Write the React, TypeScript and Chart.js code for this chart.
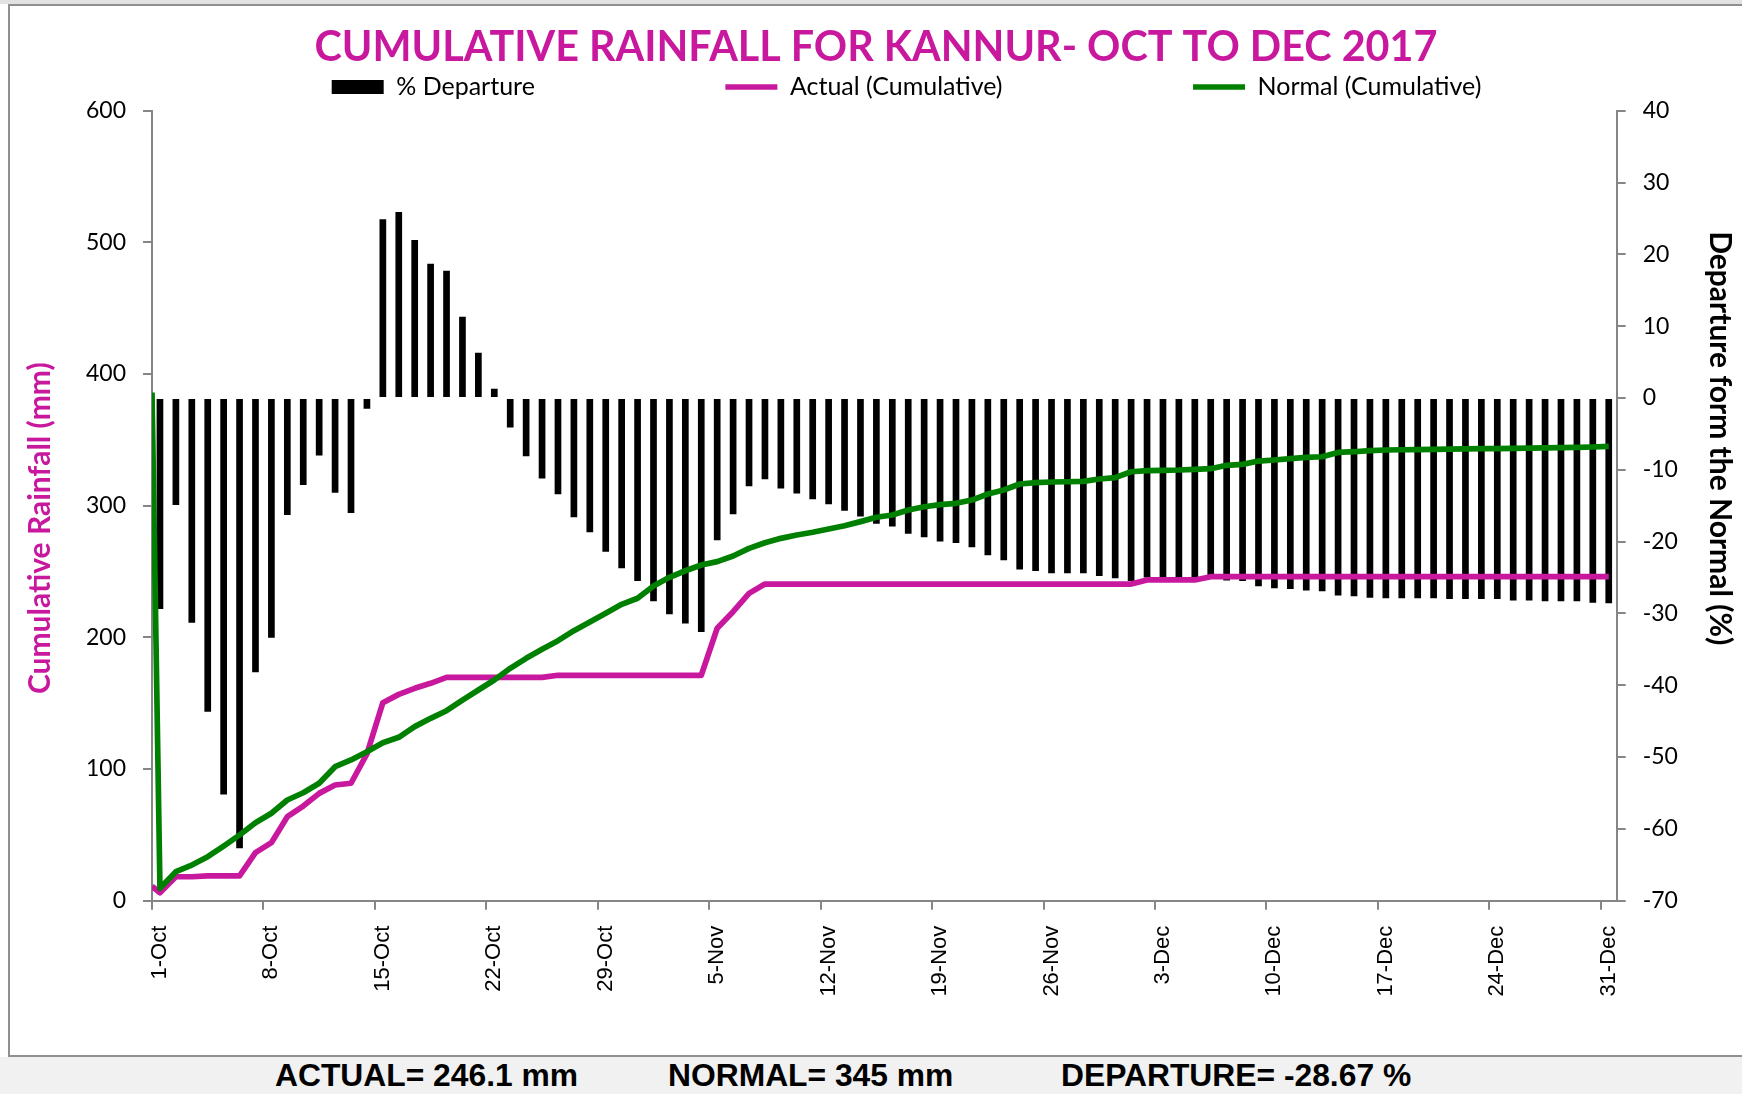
import React, { useEffect, useRef } from 'react';
import { Chart, registerables } from 'chart.js';

Chart.register(...registerables);

document.body.style.margin = '0';

// ---------- data ----------
const MONTHS = ['Oct', 'Nov', 'Dec'];
const MONTH_DAYS = [31, 30, 31];
const DAY_LABELS: string[] = [];
MONTHS.forEach((m, k) => {
  for (let d = 1; d <= MONTH_DAYS[k]; d++) DAY_LABELS.push(`${d}-${m}`);
});

// % departure (bars, right axis), one per day
const DEPARTURE_PCT = [
  -29.4, -14.9, -31.3, -43.7, -55.2, -62.7, -38.2, -33.4, -16.3, -12.1,
  -8.0, -13.2, -16.0, -1.5, 24.9, 25.9, 22.0, 18.7, 17.7, 11.3,
  6.3, 1.3, -4.1, -8.1, -11.2, -13.4, -16.6, -18.7, -21.4, -23.7,
  -25.5, -28.3, -30.1, -31.4, -32.6, -19.8, -16.2, -12.3, -11.3, -12.6,
  -13.3, -14.1, -14.8, -15.7, -16.5, -17.5, -17.9, -18.9, -19.4, -20.0,
  -20.2, -20.8, -21.9, -22.6, -23.9, -24.1, -24.4, -24.4, -24.4, -24.8,
  -25.1, -25.5, -25.0, -25.0, -25.0, -25.0, -25.1, -25.4, -25.5, -26.2,
  -26.5, -26.6, -26.8, -26.9, -27.5, -27.6, -27.8, -27.9, -27.9, -27.9,
  -27.9, -28.0, -28.0, -28.0, -28.0, -28.2, -28.2, -28.3, -28.3, -28.3,
  -28.5, -28.6,
];

// cumulative series: first value is the starting point at the left edge, then one per day
const ACTUAL_CUM = [
  11,
  6.1, 18.2, 18.2, 18.8, 18.8, 18.8, 36.5, 44.1, 63.8, 71.9,
  81.5, 87.9, 89.2, 111.5, 150.4, 156.7, 161.3, 165.1, 169.6, 169.6,
  169.6, 169.6, 169.6, 169.6, 169.6, 171.2, 171.2, 171.2, 171.2, 171.2,
  171.2, 171.2, 171.2, 171.2, 171.2, 206.9, 219.5, 233.4, 240.5, 240.5,
  240.5, 240.5, 240.5, 240.5, 240.5, 240.5, 240.5, 240.5, 240.5, 240.5,
  240.5, 240.5, 240.5, 240.5, 240.5, 240.5, 240.5, 240.5, 240.5, 240.5,
  240.5, 240.5, 243.6, 243.6, 243.6, 243.6, 246.1, 246.1, 246.1, 246.1,
  246.1, 246.1, 246.1, 246.1, 246.1, 246.1, 246.1, 246.1, 246.1, 246.1,
  246.1, 246.1, 246.1, 246.1, 246.1, 246.1, 246.1, 246.1, 246.1, 246.1,
  246.1, 246.1,
];

const NORMAL_CUM = [
  386,
  9.4, 22, 27.1, 33.4, 41.5, 49.9, 59.2, 66.4, 76.5, 82,
  89.2, 101.8, 106.9, 113.2, 120, 124.1, 132.2, 138.5, 144.3, 152.4,
  160, 167.6, 176.5, 184.1, 191, 197.5, 205.1, 211.7, 218.3, 225.1,
  229.7, 239, 245.6, 250.6, 255, 257.5, 261.8, 267.6, 271.9, 275.2,
  277.7, 279.8, 282.3, 284.8, 287.9, 291.2, 292.9, 296.7, 299.2, 300.8,
  301.8, 304.3, 308.9, 311.9, 316.5, 317.5, 318, 318.2, 318.5, 320.3,
  321.3, 325.8, 326.6, 326.9, 327.1, 327.6, 328.1, 330.7, 331.4, 333.9,
  334.7, 335.7, 336.7, 337.2, 340.5, 341, 341.8, 342.3, 342.5, 342.6,
  342.8, 343, 343.1, 343.3, 343.4, 343.6, 343.8, 343.9, 344.1, 344.3,
  344.6, 345,
];

const SERIES_NAMES = ['% Departure', 'Actual (Cumulative)', 'Normal (Cumulative)'];
const TITLE = 'CUMULATIVE RAINFALL FOR KANNUR- OCT TO DEC 2017';
const LEFT_AXIS_TITLE = 'Cumulative Rainfall (mm)';
const RIGHT_AXIS_TITLE = 'Departure form the Normal (%)';
const SUMMARY = ['ACTUAL= 246.1 mm', 'NORMAL= 345 mm', 'DEPARTURE= -28.67 %'];
const LEFT_RANGE = [0, 600, 100];
const RIGHT_RANGE = [-70, 40, 10];
const LABEL_EVERY = 7;

// ---------- style ----------
const MAGENTA = '#C8189E';
const GREEN = '#008000';
const AXIS = '#868686';
const CANVAS_W = 1732;
const CANVAS_H = 1048;
const LEGEND_H = 45.2;
const LEGEND_DX = 30.5;
const LEGEND_DY = -181.5;
const SUMMARY_X = [275, 668, 1061];
const LINE_W = 5.7;

const legendPlacement = {
  id: 'legendPlacement',
  beforeInit(chart: any) {
    const lg = chart.legend;
    if (!lg) return;
    const fit = lg.fit;
    lg.fit = function () {
      fit.call(this);
      this.height = LEGEND_H;
    };
    lg.draw = function () {
      if (!this.options.display) return;
      const c = this.ctx;
      c.save();
      c.translate(LEGEND_DX, LEGEND_DY);
      this._draw();
      c.restore();
    };
  },
};

export default function App() {
  const ref = useRef<HTMLCanvasElement>(null);

  useEffect(() => {
    const toPoints = (vals: number[]) =>
      vals.map((v, i) => ({ x: i === 0 ? -0.5 : i - 1, y: v }));

    const chart = new Chart(ref.current as HTMLCanvasElement, {
      type: 'bar',
      data: {
        labels: DAY_LABELS,
        datasets: [
          {
            type: 'bar',
            label: SERIES_NAMES[0],
            data: DEPARTURE_PCT,
            backgroundColor: '#000000',
            borderWidth: 0,
            xAxisID: 'x',
            yAxisID: 'y1',
            grouped: false,
            barPercentage: 0.42,
            categoryPercentage: 1,
            order: 2,
          } as any,
          {
            type: 'line',
            label: SERIES_NAMES[1],
            data: toPoints(ACTUAL_CUM),
            borderColor: MAGENTA,
            backgroundColor: MAGENTA,
            borderWidth: LINE_W,
            pointRadius: 0,
            fill: false,
            tension: 0,
            borderJoinStyle: 'round',
            xAxisID: 'x2',
            yAxisID: 'y',
            order: 1,
          } as any,
          {
            type: 'line',
            label: SERIES_NAMES[2],
            data: toPoints(NORMAL_CUM),
            borderColor: GREEN,
            backgroundColor: GREEN,
            borderWidth: LINE_W,
            pointRadius: 0,
            fill: false,
            tension: 0,
            borderJoinStyle: 'round',
            xAxisID: 'x2',
            yAxisID: 'y',
            order: 0,
          } as any,
        ],
      },
      options: {
        responsive: false,
        animation: false,
        events: [],
        layout: { padding: 0 },
        plugins: {
          title: {
            display: true,
            text: TITLE,
            color: MAGENTA,
            font: { family: 'Lato', size: 41.3, weight: 'bold', lineHeight: 0.85 },
            padding: { top: 24, bottom: 0.4 },
          },
          legend: {
            display: true,
            position: 'top',
            labels: {
              color: '#000000',
              font: { family: 'Lato', size: 25 },
              usePointStyle: true,
              pointStyleWidth: 52,
              boxHeight: 14,
              padding: 190.5,
              generateLabels: (c: any) => {
                const colors = ['#000000', MAGENTA, GREEN];
                return c.data.datasets.map((ds: any, i: number) => ({
                  text: ds.label,
                  datasetIndex: i,
                  fillStyle: colors[i],
                  strokeStyle: colors[i],
                  lineWidth: i === 0 ? 0 : LINE_W,
                  pointStyle: i === 0 ? 'rect' : 'line',
                  hidden: false,
                  fontColor: '#000000',
                }));
              },
            },
          } as any,
          tooltip: { enabled: false },
        },
        scales: {
          x: {
            type: 'category',
            position: 'bottom',
            offset: true,
            grid: {
              offset: true,
              drawOnChartArea: false,
              drawTicks: true,
              tickLength: 9,
              lineWidth: 2,
              color: (ctx: any) => (ctx.index !== undefined && ctx.index % LABEL_EVERY === 0 ? AXIS : 'rgba(0,0,0,0)'),
            },
            border: { display: true, color: AXIS, width: 2 },
            ticks: {
              autoSkip: false,
              maxRotation: 90,
              minRotation: 90,
              padding: 16,
              color: '#000000',
              font: { family: 'Liberation Sans', size: 22 },
              callback: (_v: any, index: number) => (index % LABEL_EVERY === 0 ? DAY_LABELS[index] : ''),
            },
            afterFit: (s: any) => {
              s.height = 153.3;
            },
          } as any,
          x2: {
            type: 'linear',
            display: false,
            offset: false,
            grid: { offset: false },
            min: -0.5,
            max: DAY_LABELS.length - 0.5,
          } as any,
          y: {
            type: 'linear',
            position: 'left',
            min: LEFT_RANGE[0],
            max: LEFT_RANGE[1],
            ticks: {
              stepSize: LEFT_RANGE[2],
              padding: 17,
              color: '#000000',
              font: { family: 'Lato', size: 23 },
            },
            grid: { drawOnChartArea: false, tickLength: 9, lineWidth: 2, color: AXIS },
            border: { display: true, color: AXIS, width: 2 },
            title: {
              display: true,
              text: LEFT_AXIS_TITLE + '\u2002\u2002\u2002',
              color: MAGENTA,
              font: { family: 'Lato', size: 30, weight: 'bold', lineHeight: 1.2 },
              padding: { top: 12, bottom: 0 },
            },
            afterFit: (s: any) => {
              s.width = 142;
            },
          } as any,
          y1: {
            type: 'linear',
            position: 'right',
            min: RIGHT_RANGE[0],
            max: RIGHT_RANGE[1],
            ticks: {
              stepSize: RIGHT_RANGE[2],
              padding: 17,
              color: '#000000',
              font: { family: 'Lato', size: 23 },
            },
            grid: { drawOnChartArea: false, tickLength: 9, lineWidth: 2, color: AXIS },
            border: { display: true, color: AXIS, width: 2 },
            title: {
              display: true,
              text: RIGHT_AXIS_TITLE + '\u2002\u2002\u2002\u2002\u2002\u2002\u2002\u2002\u2002',
              color: '#000000',
              font: { family: 'Lato', size: 30, weight: 'bold', lineHeight: 1.2 },
              padding: { top: 4, bottom: 0 },
            },
            afterFit: (s: any) => {
              s.width = 125.3;
            },
          } as any,
        },
      },
      plugins: [legendPlacement],
    });

    return () => chart.destroy();
  }, []);

  return (
    <div style={{ position: 'relative', width: 1742, height: 1094, background: '#ffffff', overflow: 'hidden' }}>
      <div style={{ position: 'absolute', left: 0, top: 0, width: 1742, height: 4, background: '#e2e2e2' }} />
      <div
        style={{
          position: 'absolute',
          left: 8,
          top: 4,
          width: 1800,
          height: 1053,
          boxSizing: 'border-box',
          borderTop: '2px solid #8f8f8f',
          borderLeft: '2px solid #8f8f8f',
          borderBottom: '2px solid #8f8f8f',
        }}
      />
      <canvas
        ref={ref}
        width={CANVAS_W}
        height={CANVAS_H}
        style={{ position: 'absolute', left: 10, top: 6, width: CANVAS_W, height: CANVAS_H, display: 'block' }}
      />
      <div style={{ position: 'absolute', left: 0, top: 1057, width: 1742, height: 37, background: '#f1f1f1' }}>
        {SUMMARY.map((t, i) => (
          <span
            key={i}
            style={{
              position: 'absolute',
              left: SUMMARY_X[i],
              top: 0,
              lineHeight: '37px',
              fontFamily: '"Liberation Sans", Arial, sans-serif',
              fontWeight: 'bold',
              fontSize: 31.8,
              color: '#000000',
              whiteSpace: 'pre',
            }}
          >
            {t}
          </span>
        ))}
      </div>
    </div>
  );
}
